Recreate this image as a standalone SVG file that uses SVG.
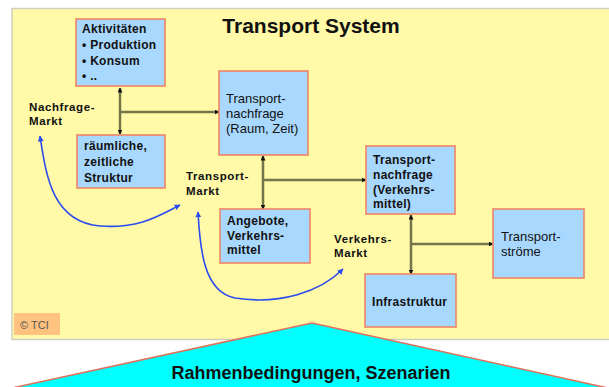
<svg xmlns="http://www.w3.org/2000/svg" width="609" height="387" viewBox="0 0 609 387">
<defs>
<style>
.box{fill:#A9D8FE;stroke:#F08466;stroke-width:1.6}
.b{font-family:"Liberation Sans",Arial,sans-serif;font-weight:bold;font-size:12px;letter-spacing:0.3px;fill:#111}
.r{font-family:"Liberation Sans",Arial,sans-serif;font-size:13px;fill:#111}
.lbl{font-family:"Liberation Sans",Arial,sans-serif;font-weight:bold;font-size:11.5px;letter-spacing:0.6px;fill:#111}
.con{stroke:#75754a;stroke-width:2.5;fill:none}
.blue{stroke:#2a4cf0;stroke-width:1.6;fill:none}
</style>
<marker id="ah" viewBox="0 0 10 10" refX="9" refY="5" markerWidth="5" markerHeight="5" orient="auto-start-reverse" markerUnits="userSpaceOnUse">
<path d="M0,0 L10,5 L0,10 z" fill="#111"/>
</marker>
<marker id="bh" viewBox="0 0 10 10" refX="9" refY="5" markerWidth="6" markerHeight="6" orient="auto-start-reverse" markerUnits="userSpaceOnUse">
<path d="M0,0 L10,5 L0,10 z" fill="#2a4cf0"/>
</marker>
</defs>
<rect x="0" y="0" width="609" height="387" fill="#fff"/>
<rect x="12" y="8.5" width="605" height="331" fill="#FFF9A8" stroke="#cfcfc0" stroke-width="1.5"/>
<text x="311" y="33" text-anchor="middle" font-family="'Liberation Sans',Arial,sans-serif" font-weight="bold" font-size="21px" fill="#111">Transport System</text>

<g id="connectors">
<line class="con" x1="120" y1="88" x2="120" y2="134" marker-start="url(#ah)" marker-end="url(#ah)"/>
<line class="con" x1="120" y1="112" x2="219" y2="112" marker-end="url(#ah)"/>
<line class="con" x1="263" y1="156" x2="263" y2="209" marker-start="url(#ah)" marker-end="url(#ah)"/>
<line class="con" x1="263" y1="180" x2="366" y2="180" marker-end="url(#ah)"/>
<line class="con" x1="411" y1="215" x2="411" y2="274" marker-start="url(#ah)" marker-end="url(#ah)"/>
<line class="con" x1="411" y1="244" x2="493" y2="244" marker-end="url(#ah)"/>
<path class="blue" d="M40,136 C46,175 52,222 100,226 C140,229 160,215 180,205" marker-start="url(#bh)" marker-end="url(#bh)"/>
<path class="blue" d="M198,212 C200,250 204,292 235,298 C280,305 320,292 343,269" marker-start="url(#bh)" marker-end="url(#bh)"/>
</g>

<g id="aktivitaeten">
<rect class="box" x="76" y="19" width="89" height="67"/>
<text class="b" x="82" y="33">Aktivitäten</text>
<text class="b" x="82" y="49">• Produktion</text>
<text class="b" x="82" y="65" font-size="13px">• Konsum</text>
<text class="b" x="82" y="80">• ..</text>
</g>
<g id="struktur">
<rect class="box" x="77" y="135" width="88" height="53"/>
<text class="b" x="84" y="150">räumliche,</text>
<text class="b" x="84" y="166">zeitliche</text>
<text class="b" x="84" y="182">Struktur</text>
</g>
<g id="nachfrage-raum">
<rect class="box" x="219" y="71" width="89" height="84"/>
<text class="r" x="226" y="103">Transport-</text>
<text class="r" x="226" y="118">nachfrage</text>
<text class="r" x="226" y="133">(Raum, Zeit)</text>
</g>
<g id="nachfrage-vm">
<rect class="box" x="366" y="146" width="89" height="68"/>
<text class="b" x="373" y="164">Transport-</text>
<text class="b" x="373" y="179">nachfrage</text>
<text class="b" x="373" y="194">(Verkehrs-</text>
<text class="b" x="373" y="208">mittel)</text>
</g>
<g id="angebote">
<rect class="box" x="220" y="209" width="90" height="54"/>
<text class="b" x="227" y="225">Angebote,</text>
<text class="b" x="227" y="240">Verkehrs-</text>
<text class="b" x="227" y="254">mittel</text>
</g>
<g id="stroeme">
<rect class="box" x="493" y="209" width="91" height="69"/>
<text class="r" x="501" y="241">Transport-</text>
<text class="r" x="501" y="256">ströme</text>
</g>
<g id="infrastruktur">
<rect class="box" x="365" y="274" width="91" height="53"/>
<text class="b" x="372" y="306">Infrastruktur</text>
</g>

<g id="labels">
<text class="lbl" x="29" y="111">Nachfrage-</text>
<text class="lbl" x="29" y="125">Markt</text>
<text class="lbl" x="186" y="180">Transport-</text>
<text class="lbl" x="186" y="195">Markt</text>
<text class="lbl" x="334" y="243">Verkehrs-</text>
<text class="lbl" x="334" y="257">Markt</text>
</g>

<g id="tci">
<rect x="14" y="313" width="46" height="22" fill="#FFC37F"/>
<text x="20" y="329" font-family="'Liberation Sans',Arial,sans-serif" font-size="11px" fill="#555">© TCI</text>
</g>

<g id="rahmen">
<polygon points="12,388 312,323 608,388" fill="#00FFFF" stroke="#E0705A" stroke-width="1.5"/>
<text x="311" y="379" text-anchor="middle" font-family="'Liberation Sans',Arial,sans-serif" font-weight="bold" font-size="18px" fill="#111">Rahmenbedingungen, Szenarien</text>
</g>
</svg>
